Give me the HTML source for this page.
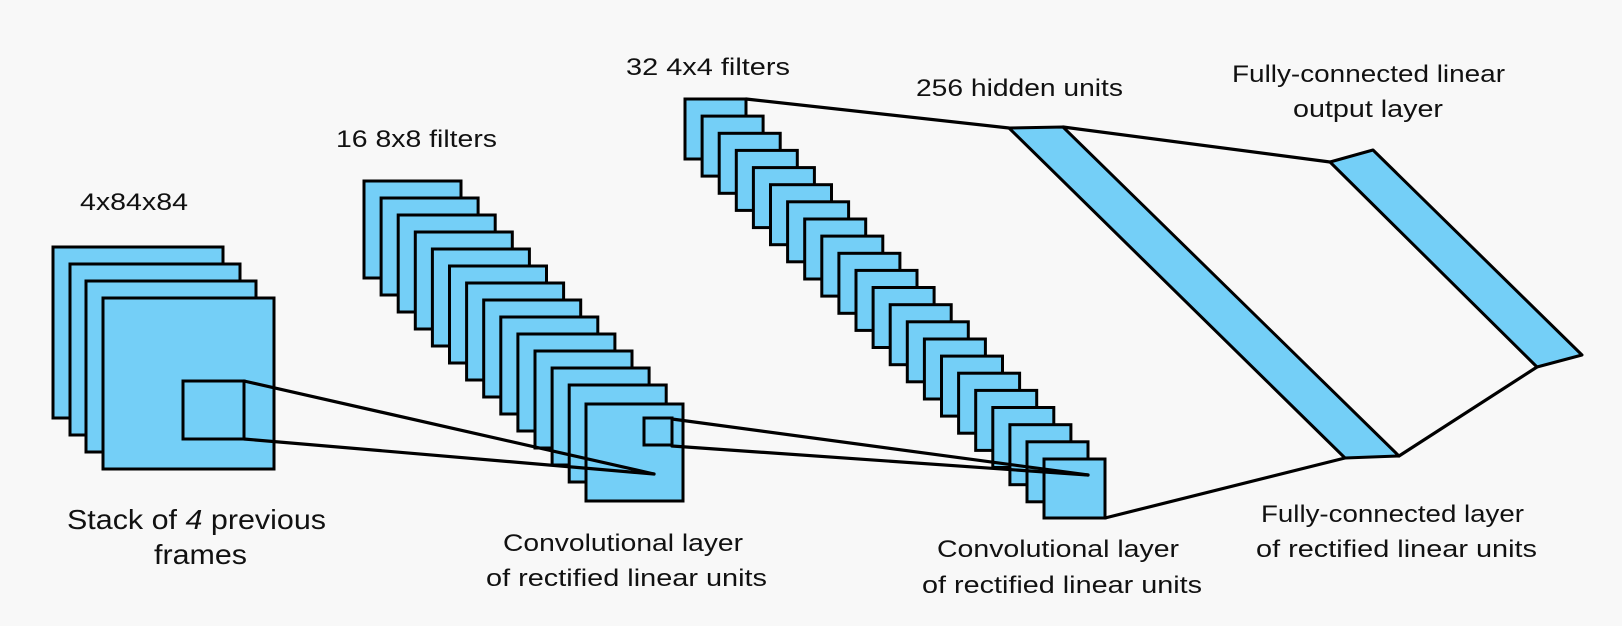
<!DOCTYPE html>
<html><head><meta charset="utf-8"><style>
html,body{margin:0;padding:0;background:#f8f8f8;}
svg{display:block;}
text{font-family:"Liberation Sans",sans-serif;fill:#111;}
</style></head><body>
<svg width="1622" height="626" viewBox="0 0 1622 626" xmlns="http://www.w3.org/2000/svg">
<rect width="1622" height="626" fill="#f8f8f8"/>
<g fill="#74cff7" stroke="#000" stroke-width="3">
<!-- stack 1 -->
<rect x="53" y="247" width="170" height="171"/>
<rect x="70" y="264" width="170" height="171"/>
<rect x="86" y="281" width="170" height="171"/>
<rect x="103" y="298" width="171" height="171"/>
<rect x="183" y="381" width="61" height="58"/>
<!-- stack 2 -->
<rect x="364" y="181" width="97" height="97"/>
<rect x="381.1" y="198" width="97" height="97"/>
<rect x="398.2" y="215" width="97" height="97"/>
<rect x="415.3" y="232" width="97" height="97"/>
<rect x="432.4" y="249" width="97" height="97"/>
<rect x="449.5" y="266" width="97" height="97"/>
<rect x="466.6" y="283" width="97" height="97"/>
<rect x="483.7" y="300" width="97" height="97"/>
<rect x="500.8" y="317" width="97" height="97"/>
<rect x="517.9" y="334" width="97" height="97"/>
<rect x="535" y="351" width="97" height="97"/>
<rect x="552.1" y="368" width="97" height="97"/>
<rect x="569.2" y="385" width="97" height="97"/>
<rect x="586" y="404" width="97" height="97"/>
<rect x="644" y="418" width="28" height="27"/>
<!-- stack 3 -->
<rect x="685" y="99" width="61" height="60"/>
<rect x="702.1" y="116.1" width="61" height="60"/>
<rect x="719.2" y="133.3" width="61" height="60"/>
<rect x="736.3" y="150.4" width="61" height="60"/>
<rect x="753.4" y="167.6" width="61" height="60"/>
<rect x="770.5" y="184.7" width="61" height="60"/>
<rect x="787.6" y="201.8" width="61" height="60"/>
<rect x="804.7" y="219" width="61" height="60"/>
<rect x="821.8" y="236.1" width="61" height="60"/>
<rect x="838.9" y="253.3" width="61" height="60"/>
<rect x="856" y="270.4" width="61" height="60"/>
<rect x="873.1" y="287.5" width="61" height="60"/>
<rect x="890.2" y="304.7" width="61" height="60"/>
<rect x="907.3" y="321.8" width="61" height="60"/>
<rect x="924.4" y="339" width="61" height="60"/>
<rect x="941.5" y="356.1" width="61" height="60"/>
<rect x="958.6" y="373.2" width="61" height="60"/>
<rect x="975.7" y="390.4" width="61" height="60"/>
<rect x="992.8" y="407.5" width="61" height="60"/>
<rect x="1009.9" y="424.7" width="61" height="60"/>
<rect x="1027" y="441.8" width="61" height="60"/>
<rect x="1044" y="459" width="61" height="59"/>
<!-- hidden layer -->
<polygon points="1009,128 1063,127 1399,456 1345,458" stroke-linejoin="round"/>
<!-- output layer -->
<polygon points="1330,162 1373,150 1582,355 1537,367" stroke-linejoin="round"/>
</g>
<g fill="none" stroke="#000" stroke-width="3.2" stroke-linecap="round">
<line x1="244" y1="381" x2="654" y2="474"/>
<line x1="244" y1="439" x2="654" y2="474"/>
<line x1="672" y1="419" x2="1088" y2="475"/>
<line x1="672" y1="446" x2="1088" y2="475"/>
<line x1="746" y1="99" x2="1009" y2="128"/>
<line x1="1063" y1="127" x2="1330" y2="162"/>
<line x1="1105" y1="518" x2="1345" y2="458"/>
<line x1="1399" y1="456" x2="1537" y2="367"/>
</g>
<g font-size="24">
<text x="80" y="210" textLength="108" lengthAdjust="spacingAndGlyphs">4x84x84</text>
<text x="336" y="147" textLength="161" lengthAdjust="spacingAndGlyphs">16 8x8 filters</text>
<text x="626" y="75" textLength="164" lengthAdjust="spacingAndGlyphs">32 4x4 filters</text>
<text x="916" y="96" textLength="207" lengthAdjust="spacingAndGlyphs">256 hidden units</text>
<text x="1232" y="82" textLength="273" lengthAdjust="spacingAndGlyphs">Fully-connected linear</text>
<text x="1293" y="117" textLength="150" lengthAdjust="spacingAndGlyphs">output layer</text>
<text x="503" y="551" textLength="240" lengthAdjust="spacingAndGlyphs">Convolutional layer</text>
<text x="486" y="586" textLength="281" lengthAdjust="spacingAndGlyphs">of rectified linear units</text>
<text x="937" y="557" textLength="242" lengthAdjust="spacingAndGlyphs">Convolutional layer</text>
<text x="922" y="593" textLength="280" lengthAdjust="spacingAndGlyphs">of rectified linear units</text>
<text x="1261" y="522" textLength="263" lengthAdjust="spacingAndGlyphs">Fully-connected layer</text>
<text x="1256" y="557" textLength="281" lengthAdjust="spacingAndGlyphs">of rectified linear units</text>
</g>
<g font-size="28">
<text x="67" y="529" textLength="259" lengthAdjust="spacingAndGlyphs">Stack of <tspan font-style="italic">4</tspan> previous</text>
<text x="154" y="564" textLength="93" lengthAdjust="spacingAndGlyphs">frames</text>
</g>
</svg>
</body></html>
